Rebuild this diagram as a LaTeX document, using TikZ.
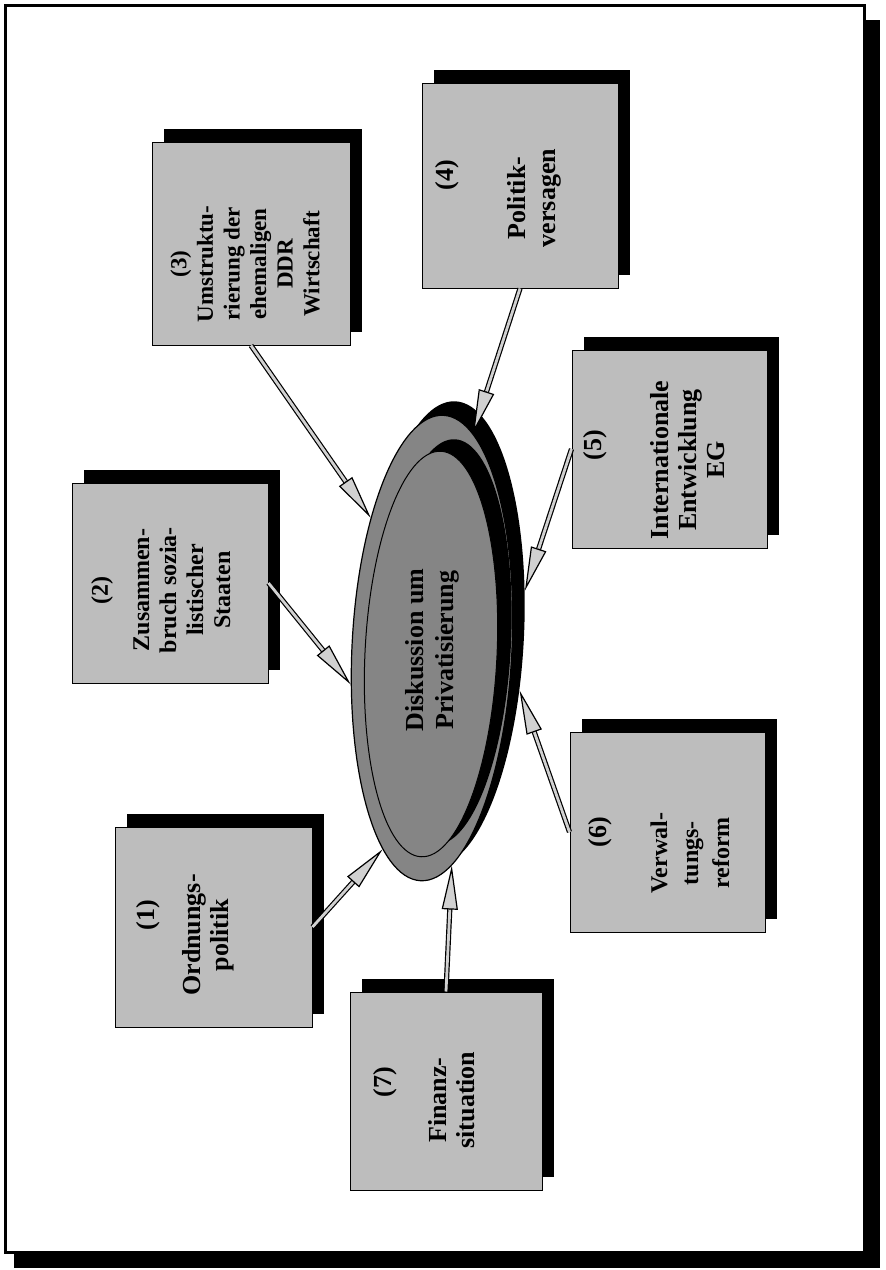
\documentclass[tikz,border=0pt]{standalone}
\usepackage{fontspec}
\setmainfont{Liberation Serif}
\usetikzlibrary{shapes.geometric,shadows,arrows.meta,calc}
\definecolor{boxgray}{gray}{0.74}
\definecolor{discgray}{gray}{0.52}
\definecolor{arrowgray}{gray}{0.82}
\newcommand\fatarrow[2]{%
  \draw[shaftout] (#1) -- (#2);
  \draw[shaftin] (#1) -- (#2);
  \draw[tipstyle] ($(#2)!22pt!(#1)$) -- (#2);}
\begin{document}
\begin{tikzpicture}[x=0.5pt,y=-0.5pt,
  box/.style={draw=black, line width=0.5pt, fill=boxgray, inner sep=0pt,
    drop shadow={shadow xshift=6pt, shadow yshift=6.5pt, fill=black, opacity=1}},
  lbl/.style={rotate=90, font=\fontsize{13}{14}\selectfont\bfseries, align=center, inner sep=0pt},
  small/.style={font=\fontsize{11.5}{13.3}\selectfont\bfseries},
  shaftout/.style={line width=2.6pt, draw=black, shorten >=14pt},
  shaftin/.style={line width=1.4pt, draw=arrowgray, shorten >=14pt},
  tipstyle/.style={line width=0.5pt, -{Triangle[length=22pt, width=8pt, fill=arrowgray, line width=0.6pt]}},
  disco/.style={ellipse, inner sep=0pt, minimum width=80pt, minimum height=233pt, rotate=-2.8},
  disci/.style={ellipse, inner sep=0pt, minimum width=66pt, minimum height=203pt, rotate=-2.8}]
\useasboundingbox (0,0) rectangle (885,1270);
% frame with shadow
\fill[black] (864,20) rectangle (880,1268);
\fill[black] (14,1252) rectangle (880,1268);
\draw[line width=1.5pt, fill=white] (5,5) rectangle (864,1252);

% boxes
\node[box, minimum width=99pt, minimum height=101.5pt] (box3) at (251,243.5) {};
\node[box, minimum width=98pt, minimum height=102.5pt] (box4) at (520,185.5) {};
\node[box, minimum width=98pt, minimum height=100pt] (box2) at (170,583) {};
\node[box, minimum width=97.5pt, minimum height=99pt] (box5) at (669.5,449) {};
\node[box, minimum width=97.5pt, minimum height=100pt] (box6) at (667.5,832) {};
\node[box, minimum width=98.5pt, minimum height=100pt] (box1) at (213.5,927) {};
\node[box, minimum width=96pt, minimum height=99pt] (box7) at (446,1091) {};

% labels
\node[lbl, small] (t3) at (245,264) {(3)\\Umstruktu-\\rierung der\\ehemaligen\\DDR\\Wirtschaft};
\node[lbl] (n4) at (447,175) {(4)};
\node[lbl, font=\fontsize{13}{15}\selectfont\bfseries] (t4) at (534,198) {Politik-\\versagen};
\node[lbl, font=\fontsize{12}{13.5}\selectfont\bfseries] (n2) at (102,590) {(2)};
\node[lbl, font=\fontsize{12}{13.5}\selectfont\bfseries] (t2) at (182,590) {Zusammen-\\bruch sozia-\\listischer\\Staaten};
\node[lbl] (n5) at (595,445) {(5)};
\node[lbl] (t5) at (688,460) {Internationale\\Entwicklung\\EG};
\node[lbl] (n6) at (600,832) {(6)};
\node[lbl, font=\fontsize{12}{15.5}\selectfont\bfseries] (t6) at (690,853) {Verwal-\\tungs-\\reform};
\node[lbl] (n1) at (148,915) {(1)};
\node[lbl] (t1) at (208,935) {Ordnungs-\\politik};
\node[lbl] (n7) at (385,1082) {(7)};
\node[lbl] (t7) at (452,1100) {Finanz-\\situation};

% central disc
\node[disco, fill=black] (discsh) at (444,634) {};
\node[disco, draw=black, line width=0.6pt, fill=discgray] (disc) at (432,648) {};
\node[disci, fill=black] (innersh) at (445,642) {};
\node[disci, draw=black, line width=0.5pt, fill=discgray] (inner) at (431,654) {};
\node[lbl, font=\fontsize{13}{15}\selectfont\bfseries] (disctext) at (432,650) {Diskussion um\\Privatisierung};

% arrows
\fatarrow{box3.south}{disc.118}
\fatarrow{box4.south}{disc.82}
\fatarrow{box5.west}{discsh.31}
\fatarrow{box6.west}{discsh.-34}
\fatarrow{box1.east}{disc.259}
\fatarrow{box7.north}{disc.-82}
\fatarrow{box2.east}{disc.207}
\end{tikzpicture}
\end{document}
